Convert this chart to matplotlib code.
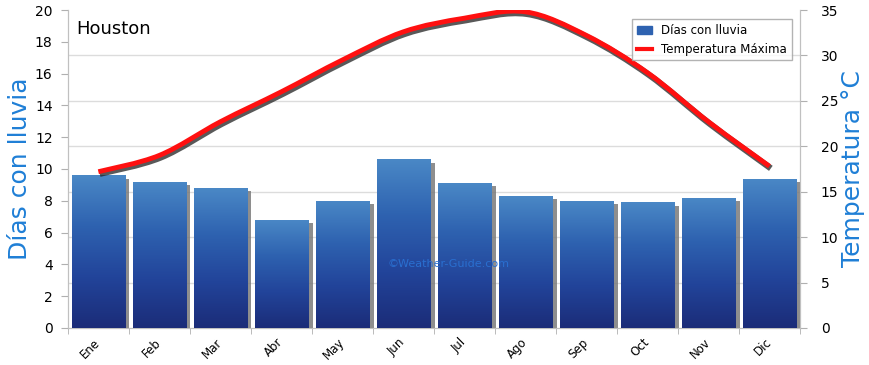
import matplotlib
matplotlib.use("Agg")
import matplotlib.pyplot as plt
import matplotlib.patheffects as pe
from matplotlib.patches import Rectangle, PathPatch
from matplotlib.path import Path
from matplotlib.lines import Line2D
import numpy as np

months = ["Ene", "Feb", "Mar", "Abr", "May", "Jun",
          "Jul", "Ago", "Sep", "Oct", "Nov", "Dic"]
rain_days = [9.6, 9.2, 8.8, 6.8, 8.0, 10.6, 9.1, 8.3, 8.0, 7.9, 8.2, 9.4]
max_temp = [17.2, 19.0, 22.7, 26.0, 29.5, 32.6, 34.1, 34.8, 32.2, 28.1, 22.7, 17.8]

blue_lbl = "#1f7fd6"
grid_col = "#dcdcdc"


def smooth_path(xs, ys):
    # Catmull-Rom style bezier path passing through every data point
    pts = np.column_stack([xs, ys]).astype(float)
    verts = [pts[0]]
    codes = [Path.MOVETO]
    n = len(pts)
    for i in range(n - 1):
        p0 = pts[max(i - 1, 0)]
        p1 = pts[i]
        p2 = pts[i + 1]
        p3 = pts[min(i + 2, n - 1)]
        c1 = p1 + (p2 - p0) / 6.0
        c2 = p2 - (p3 - p1) / 6.0
        verts += [c1, c2, p2]
        codes += [Path.CURVE4] * 3
    return Path(verts, codes)


fig = plt.figure(figsize=(8.7, 3.65), dpi=100)
ax = fig.add_axes([0.078, 0.1014, 0.8415, 0.8712])
ax2 = ax.twinx()

x = np.arange(len(months))
width = 0.88

# vertical gradient image used to fill the bars
grad = np.linspace(0, 1, 256).reshape(-1, 1)
cmap = matplotlib.colors.LinearSegmentedColormap.from_list(
    "bars", ["#1b2c78", "#22449a", "#2e62b0", "#4a88c6"])

ax.set_xlim(-0.5, len(months) - 0.5)
ax.set_ylim(0, 20)
ax2.set_ylim(0, 35)

# light grid from the temperature axis
for t in range(5, 35, 5):
    ax2.axhline(t, color=grid_col, lw=1, zorder=0)

bars = ax.bar(x, rain_days, width=width, color="#2e62b0", zorder=3,
              edgecolor="none")
for b, v in zip(bars, rain_days):
    x0 = b.get_x()
    # shadow on the right side
    ax.add_patch(Rectangle((x0 + 0.07, 0), width, v - 0.2, color="#7a7a7a",
                           alpha=0.85, zorder=2, lw=0))
    im = ax.imshow(grad, extent=(x0, x0 + width, 0, v), origin="lower",
                   cmap=cmap, aspect="auto", zorder=3.5)
    im.set_clip_path(b)

ax.set_xlim(-0.5, len(months) - 0.5)
ax.set_ylim(0, 20)

ax.set_zorder(ax2.get_zorder() + 1)
ax.patch.set_visible(False)

# temperature line drawn on its own axis but above bars
line_ax = fig.add_axes(ax.get_position(), sharex=ax)
line_ax.set_ylim(0, 35)
line_ax.axis("off")
line_ax.set_zorder(ax.get_zorder() + 1)
curve = PathPatch(smooth_path(x, max_temp), facecolor="none",
                  edgecolor="#ff1010", lw=3.5, capstyle="butt",
                  joinstyle="round",
                  path_effects=[pe.SimpleLineShadow(offset=(1, -1.5), shadow_color="#222222",
                                                    alpha=0.75, linewidth=4.5),
                                pe.Normal()])
line_ax.add_patch(curve)

ax.set_yticks(range(0, 21, 2))
ax2.set_yticks(range(0, 36, 5))
ax.set_xticks(x)
ax.set_xticklabels(months, rotation=45, ha="right", va="center",
                   rotation_mode="anchor", fontsize=8.5)
ax.set_xticks(np.arange(-0.5, len(months), 1), minor=True)
ax.tick_params(axis="x", which="major", length=0, pad=9)
ax.tick_params(axis="x", which="minor", length=4, color="#b0b0b0")
ax.tick_params(axis="y", length=5, color="#b0b0b0", labelsize=10, pad=6)
ax2.tick_params(axis="y", length=5, color="#b0b0b0", labelsize=10, pad=10)

for a in (ax, ax2):
    a.spines["top"].set_visible(False)
    for s in ("left", "right", "bottom"):
        a.spines[s].set_color("#c0c0c0")

ax.set_ylabel("Días con lluvia", color=blue_lbl, fontsize=18, labelpad=2)
ax2.set_ylabel("Temperatura °C", color=blue_lbl, fontsize=18, labelpad=2)

ax.text(0.012, 0.94, "Houston", transform=ax.transAxes, fontsize=13,
        va="center", ha="left", zorder=20)
ax.text(0.52, 0.2, "©Weather-Guide.com", transform=ax.transAxes,
        fontsize=8, color="#2a6fd0", ha="center", va="center", zorder=20)

handles = [Rectangle((0, 0), 1, 1, color="#2e62b0"),
           Line2D([0], [0], color="#ff1010", lw=3)]
leg = line_ax.legend(handles, ["Días con lluvia", "Temperatura Máxima"],
                     loc="upper right", fontsize=8.5, frameon=True,
                     fancybox=False, edgecolor="#a0a0a0", handlelength=1.3,
                     bbox_to_anchor=(0.997, 0.99))
leg.get_frame().set_linewidth(1)

fig.savefig("out.png", dpi=100)
